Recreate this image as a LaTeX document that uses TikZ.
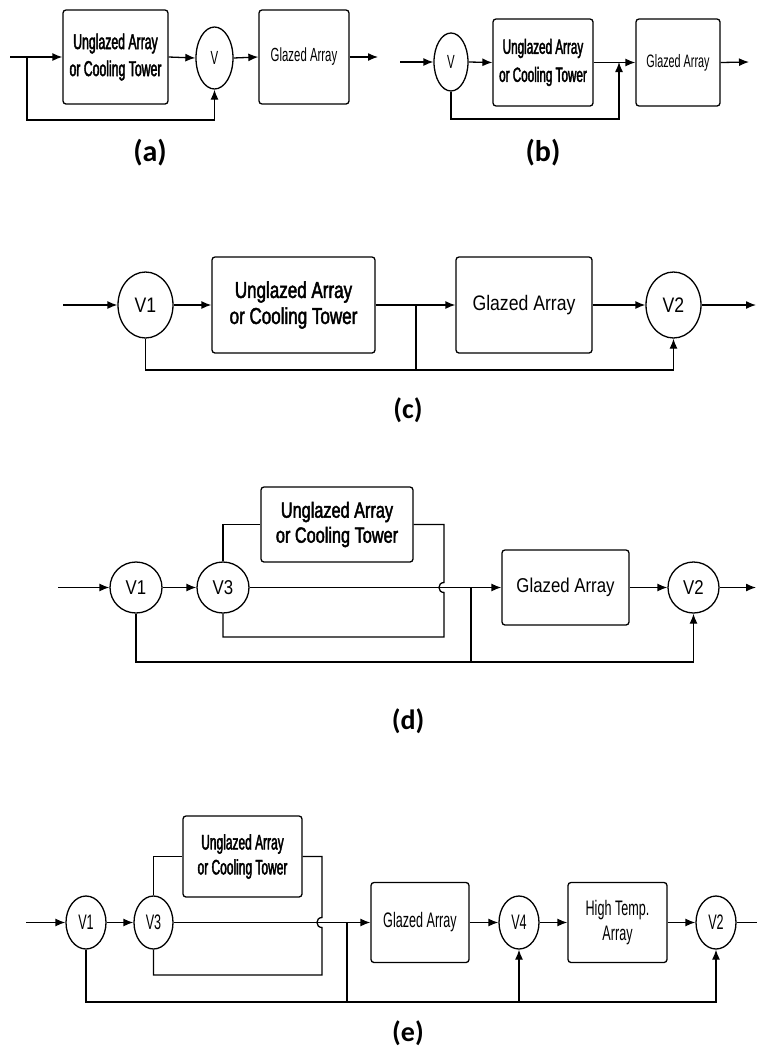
\documentclass[tikz,border=0pt]{standalone}
\usepackage{fontspec}
\setmainfont{Liberation Sans}
\newfontfamily\fnarrow[FakeStretch=0.6]{Liberation Sans}
\newfontfamily\fnarrowb[FakeStretch=0.57,FakeBold=2]{Liberation Sans}
\newfontfamily\fmid[FakeStretch=0.84]{Liberation Sans}
\newfontfamily\fmidb[FakeStretch=0.74,FakeBold=2]{Liberation Sans}
\newfontfamily\flab{Carlito}
\usetikzlibrary{arrows.meta,shapes.geometric}
\begin{document}
\begin{tikzpicture}[x=1pt,y=-1pt,line width=1.3pt,
  blk/.style={draw,rounded corners=3pt,inner sep=0pt,align=center},
  valve/.style={draw,ellipse,inner sep=0pt},
  flow/.style={-{Latex[length=10pt,width=8pt]}},
  lab/.style={font=\flab\bfseries\fontsize{30}{34}\selectfont},
  labs/.style={font=\flab\bfseries\fontsize{28}{32}\selectfont},
  ubA/.style={font=\fnarrowb\fontsize{21.5}{27}\selectfont},
  rgA/.style={font=\fnarrow\fontsize{19}{22}\selectfont},
  ubC/.style={font=\fmidb\fontsize{23}{26}\selectfont},
  rgC/.style={font=\fmid\fontsize{21}{24}\selectfont},
  ubE/.style={font=\fnarrowb\fontsize{21}{25}\selectfont},
  rgE/.style={font=\fnarrow\fontsize{21}{24}\selectfont}]
\useasboundingbox (0,0) rectangle (757,1050);

% ---------------- (a)
\coordinate (aIn) at (10,57);
\coordinate (aJ) at (27,57);
\coordinate (aB) at (27,120);
\coordinate (aOut) at (378,57);
\node[blk,ubA,minimum width=105pt,minimum height=94pt] (aU) at (115.5,57) {Unglazed Array\\or Cooling Tower};
\node[valve,rgA,minimum width=37pt,minimum height=62pt] (aV) at (214.5,58) {V};
\node[blk,rgA,minimum width=90pt,minimum height=94pt] (aG) at (304,57) {Glazed Array};
\draw[flow] (aIn) -- (aU.west);
\draw[flow] (aU.east) -- (aV.west);
\draw[flow] (aV.east) -- (aG.west);
\draw[flow] (aG.east) -- (aOut);
\draw[flow] (aJ) -- (aB) -| (aV.south);
\node[lab] (la) at (150,153) {(a)};

% ---------------- (b)
\coordinate (bIn) at (400,62);
\coordinate (bJ) at (619,62);
\coordinate (bB) at (619,119);
\coordinate (bOut) at (749,62);
\node[valve,rgA,minimum width=34pt,minimum height=58pt] (bV) at (451,62) {V};
\node[blk,ubA,font=\fnarrowb\fontsize{20.5}{28}\selectfont,minimum width=100pt,minimum height=87pt] (bU) at (543,62.5) {Unglazed Array\\or Cooling Tower};
\node[blk,rgA,font=\fnarrow\fontsize{18}{22}\selectfont,minimum width=84pt,minimum height=87pt] (bG) at (678,62.5) {Glazed Array};
\draw[flow] (bIn) -- (bV.west);
\draw[flow] (bV.east) -- (bU.west);
\draw[flow] (bU.east) -- (bG.west);
\draw[flow] (bG.east) -- (bOut);
\draw[flow] (bV.south) |- (bB) -- (bJ);
\node[lab] (lb) at (543,153) {(b)};

% ---------------- (c)
\coordinate (cIn) at (63,305);
\coordinate (cJ) at (416,305);
\coordinate (cB) at (416,370);
\coordinate (cOut) at (756,305);
\node[valve,rgC,minimum width=55pt,minimum height=66pt] (cV1) at (145.5,305) {V1};
\node[blk,ubC,minimum width=163pt,minimum height=96pt] (cU) at (293.5,305) {Unglazed Array\\or Cooling Tower};
\node[blk,rgC,minimum width=136pt,minimum height=96pt] (cG) at (524,305) {Glazed Array};
\node[valve,rgC,minimum width=55pt,minimum height=66pt] (cV2) at (673.5,305) {V2};
\draw[flow] (cIn) -- (cV1.west);
\draw[flow] (cV1.east) -- (cU.west);
\draw[flow] (cU.east) -- (cG.west);
\draw[flow] (cG.east) -- (cV2.west);
\draw[flow] (cV2.east) -- (cOut);
\draw[flow] (cV1.south) |- (cB) -| (cV2.south);
\draw (cJ) -- (cB);
\node[labs] (lc) at (408,410) {(c)};

% ---------------- (d)
\coordinate (dIn) at (58,587.5);
\coordinate (dHa) at (444,582.5);
\coordinate (dHb) at (444,592.5);
\coordinate (dBL) at (444,637);
\coordinate (dJ) at (471,587.5);
\coordinate (dB) at (471,662);
\coordinate (dOut) at (756,587.5);
\node[valve,rgC,font=\fmid\fontsize{20}{24}\selectfont,minimum width=52pt,minimum height=51pt] (dV1) at (136,587.5) {V1};
\node[valve,rgC,font=\fmid\fontsize{20}{24}\selectfont,minimum width=52pt,minimum height=51pt] (dV3) at (223,587.5) {V3};
\node[blk,ubC,font=\fmidb\fontsize{22}{25}\selectfont,minimum width=152pt,minimum height=75pt] (dU) at (337,524.5) {Unglazed Array\\or Cooling Tower};
\node[blk,rgC,font=\fmid\fontsize{20}{24}\selectfont,minimum width=127pt,minimum height=75pt] (dG) at (565.5,587.5) {Glazed Array};
\node[valve,rgC,font=\fmid\fontsize{20}{24}\selectfont,minimum width=51pt,minimum height=51pt] (dV2) at (693.5,587.5) {V2};
\draw[flow] (dIn) -- (dV1.west);
\draw[flow] (dV1.east) -- (dV3.west);
\draw (dV3.north) |- (dU.west);
\draw (dU.east) -| (dHa) .. controls +(-6.7,0) and +(-6.7,0) .. (dHb) -- (dBL) -| (dV3.south);
\draw[flow] (dV3.east) -- (dG.west);
\draw[flow] (dG.east) -- (dV2.west);
\draw[flow] (dV2.east) -- (dOut);
\draw[flow] (dV1.south) |- (dB) -| (dV2.south);
\draw (dJ) -- (dB);
\node[labs] (ld) at (408,721) {(d)};

% ---------------- (e)
\coordinate (eIn) at (26,922.5);
\coordinate (eHa) at (322,917.5);
\coordinate (eHb) at (322,927.5);
\coordinate (eBL) at (322,975);
\coordinate (eJ) at (347,922.5);
\coordinate (eB) at (347,1002);
\coordinate (eOut) at (757,922.5);
\node[valve,rgE,minimum width=40pt,minimum height=53pt] (eV1) at (86,922.5) {V1};
\node[valve,rgE,minimum width=39pt,minimum height=53pt] (eV3) at (153.5,922.5) {V3};
\node[blk,ubE,minimum width=119pt,minimum height=81pt] (eU) at (242.5,856.5) {Unglazed Array\\or Cooling Tower};
\node[blk,rgE,minimum width=98pt,minimum height=80pt] (eG) at (420,922.5) {Glazed Array};
\node[valve,rgE,minimum width=40pt,minimum height=53pt] (eV4) at (519,922.5) {V4};
\node[blk,rgE,font=\fnarrow\fontsize{21}{25}\selectfont,minimum width=99pt,minimum height=80pt] (eH) at (617.5,922.5) {High Temp.\\Array};
\node[valve,rgE,minimum width=40pt,minimum height=53pt] (eV2) at (716,922.5) {V2};
\coordinate (eB4) at (eV4.south |- eB);
\draw[flow] (eIn) -- (eV1.west);
\draw[flow] (eV1.east) -- (eV3.west);
\draw (eV3.north) |- (eU.west);
\draw (eU.east) -| (eHa) .. controls +(-6.7,0) and +(-6.7,0) .. (eHb) -- (eBL) -| (eV3.south);
\draw[flow] (eV3.east) -- (eG.west);
\draw[flow] (eG.east) -- (eV4.west);
\draw[flow] (eV4.east) -- (eH.west);
\draw[flow] (eH.east) -- (eV2.west);
\draw (eV2.east) -- (eOut);
\draw[flow] (eV1.south) |- (eB) -| (eV2.south);
\draw[flow] (eB4) -- (eV4.south);
\draw (eJ) -- (eB);
\node[labs] (le) at (408,1033) {(e)};
\end{tikzpicture}
\end{document}
